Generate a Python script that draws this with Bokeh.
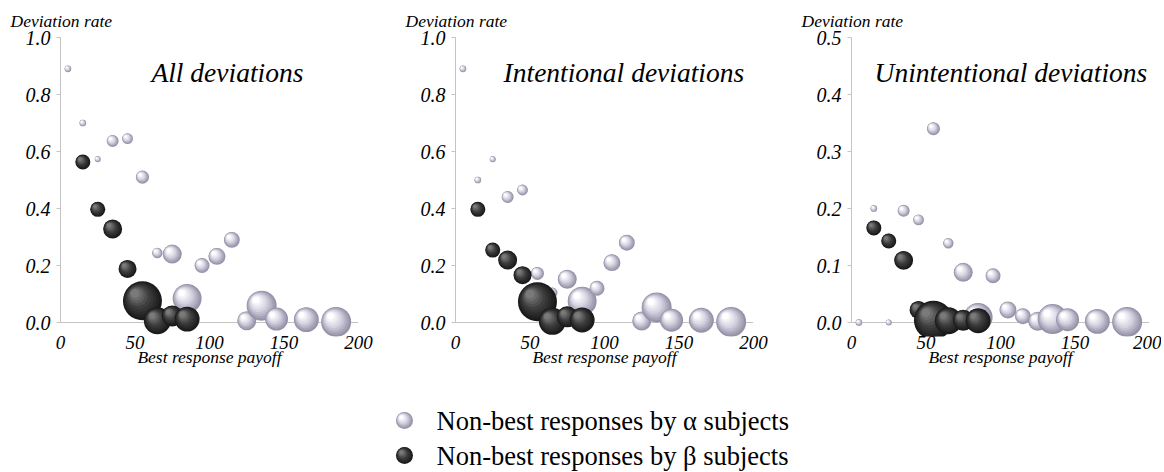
import math
from bokeh.plotting import figure
from bokeh.layouts import row, column
from bokeh.models import (ColumnDataSource, Range1d, FixedTicker, PrintfTickFormatter,
                          Span, Label)
from bokeh.embed import file_html
from bokeh.resources import INLINE

# ---------------- data ----------------
payoff_alpha = [5, 15, 25, 35, 45, 55, 65, 75, 85, 95, 105, 115, 125, 135, 145, 165, 185]
payoff_beta = [15, 25, 35, 45, 55, 65, 75, 85]

# number of observations behind each bubble (bubble area)
n_alpha = [5, 5, 4, 16, 13, 19, 12, 40, 93, 25, 32, 28, 40, 100, 59, 69, 100]
n_beta = [25, 25, 40, 36, 169, 81, 49, 69]

alpha_all = [0.89, 0.70, 0.573, 0.637, 0.645, 0.51, 0.244, 0.24, 0.084, 0.20, 0.232, 0.29,
             0.006, 0.059, 0.012, 0.010, 0.002]
alpha_int = [0.89, 0.50, 0.573, 0.44, 0.465, 0.172, 0.105, 0.152, 0.075, 0.12, 0.21, 0.28,
             0.005, 0.053, 0.008, 0.008, 0.002]
alpha_unint = [0.0, 0.20, 0.0, 0.196, 0.18, 0.34, 0.139, 0.088, 0.009, 0.082, 0.022, 0.011,
               0.002, 0.006, 0.005, 0.002, 0.001]

beta_all = [0.563, 0.397, 0.328, 0.188, 0.076, 0.006, 0.023, 0.012]
beta_int = [0.397, 0.254, 0.219, 0.166, 0.073, 0.004, 0.020, 0.009]
beta_unint = [0.166, 0.143, 0.109, 0.022, 0.004, 0.003, 0.004, 0.003]

panel_titles = ["All deviations", "Intentional deviations", "Unintentional deviations"]
y_max = [1.0, 1.0, 0.5]
y_ticks = [[0.0, 0.2, 0.4, 0.6, 0.8, 1.0], [0.0, 0.2, 0.4, 0.6, 0.8, 1.0],
           [0.0, 0.1, 0.2, 0.3, 0.4, 0.5]]
x_ticks = [0, 50, 100, 150, 200]
legend_labels = ["Non-best responses by \u03b1 subjects", "Non-best responses by \u03b2 subjects"]

# ---------------- style ----------------
FONT = "Liberation Serif"
AXIS_GREY = "#c4c4c4"
SIZE_K = 3.0
FRAME_W = 298
FRAME_DATA_H = 285
PAD_PX = 14
TOP = 37
BOTTOM = 32


def shading(edge, mid, high, n=9):
    """Concentric, up-left shifted discs that imitate a lit sphere."""
    out = []
    for j in range(n):
        t = j / (n - 1)
        if t < 0.5:
            a, b, u = edge, mid, t / 0.5
        else:
            a, b, u = mid, high, (t - 0.5) / 0.5
        c = tuple(round(a[k] + (b[k] - a[k]) * u) for k in range(3))
        out.append((1.0 - 0.78 * t, 0.19 * t, "#%02x%02x%02x" % c))
    return out


LIGHT = shading((0x96, 0x92, 0xa8), (0xd4, 0xd2, 0xe0), (0xff, 0xff, 0xff))
DARK = shading((0x1a, 0x1a, 0x1a), (0x3e, 0x3e, 0x3e), (0x7a, 0x7a, 0x7a))


def sphere_source(xs, ys, ns, layers, ppx, ppy, k=SIZE_K):
    d_ = dict(x=[], y=[], size=[], color=[])
    for x, y, n in zip(xs, ys, ns):
        dia = k * math.sqrt(n)
        for frac, off, col in layers:
            d_["x"].append(x - off * dia / ppx)
            d_["y"].append(y + off * dia / ppy)
            d_["size"].append(frac * dia)
            d_["color"].append(col)
    return ColumnDataSource(d_)


def make_panel(i, a_vals, b_vals, left_border, right_border, title_x):
    ymax = y_max[i]
    ppy = FRAME_DATA_H / ymax
    ppx = FRAME_W / 200.0
    pad = PAD_PX / ppy
    p = figure(frame_width=FRAME_W, frame_height=FRAME_DATA_H + PAD_PX,
               x_range=Range1d(0, 200), y_range=Range1d(-pad, ymax),
               output_backend="svg", toolbar_location=None,
               min_border_left=left_border, min_border_right=right_border,
               min_border_top=TOP, min_border_bottom=BOTTOM)
    p.outline_line_color = None
    p.grid.visible = False
    p.background_fill_color = "white"

    p.title.text = "Deviation rate"
    p.title.text_font = FONT
    p.title.text_font_style = "italic"
    p.title.text_font_size = "17.5px"
    p.title.text_color = "black"
    p.title.align = "left"
    p.title.offset = -50
    p.title.standoff = 13

    ya = p.yaxis[0]
    ya.ticker = FixedTicker(ticks=y_ticks[i])
    ya.formatter = PrintfTickFormatter(format="%.1f")
    ya.bounds = (0, ymax)
    ya.axis_line_color = AXIS_GREY
    ya.major_tick_line_color = AXIS_GREY
    ya.major_tick_out = 4
    ya.major_tick_in = 0
    ya.minor_tick_line_color = None
    ya.major_label_text_font = FONT
    ya.major_label_text_font_style = "italic"
    ya.major_label_text_font_size = "20px"
    ya.major_label_text_color = "black"
    ya.major_label_standoff = 6

    xa = p.xaxis[0]
    xa.ticker = FixedTicker(ticks=x_ticks)
    xa.axis_line_color = None
    xa.major_tick_line_color = None
    xa.minor_tick_line_color = None
    xa.major_tick_out = 0
    xa.major_tick_in = 0
    xa.major_label_standoff = -1
    xa.major_label_text_font = FONT
    xa.major_label_text_font_style = "italic"
    xa.major_label_text_font_size = "19px"
    xa.major_label_text_color = "black"
    xa.axis_label = "Best response payoff"
    xa.axis_label_text_font = FONT
    xa.axis_label_text_font_style = "italic"
    xa.axis_label_text_font_size = "17.5px"
    xa.axis_label_text_color = "black"
    xa.axis_label_standoff = -5

    p.add_layout(Span(location=0, dimension="width", line_color=AXIS_GREY,
                      line_width=1, level="underlay"))

    sa = sphere_source(payoff_alpha, a_vals, n_alpha, LIGHT, ppx, ppy)
    sb = sphere_source(payoff_beta, b_vals, n_beta, DARK, ppx, ppy)
    p.scatter("x", "y", size="size", fill_color="color", line_color=None, source=sa)
    p.scatter("x", "y", size="size", fill_color="color", line_color=None, source=sb)

    p.add_layout(Label(x=title_x, y=0.877 * ymax, text=panel_titles[i], text_font=FONT,
                       text_font_style="italic", text_font_size="27.5px",
                       text_align="center", text_baseline="middle", text_color="black"))
    return p


p1 = make_panel(0, alpha_all, beta_all, 60, 45, 112)
p2 = make_panel(1, alpha_int, beta_int, 52, 45, 113)
p3 = make_panel(2, alpha_unint, beta_unint, 53, 12, 107)

# ---------------- legend ----------------
LW, LH = 1161, 102
leg = figure(width=LW, height=LH, x_range=Range1d(0, LW), y_range=Range1d(0, LH),
             output_backend="svg", toolbar_location=None, min_border=0)
leg.axis.visible = False
leg.grid.visible = False
leg.outline_line_color = None
rows_y = [LH - 51, LH - 86]
for lab, yy, layers in zip(legend_labels, rows_y, [LIGHT, DARK]):
    src = sphere_source([404], [yy], [1], layers, 1.0, 1.0, k=17)
    leg.scatter("x", "y", size="size", fill_color="color", line_color=None, source=src)
    leg.add_layout(Label(x=436, y=yy, text=lab, text_font=FONT, text_font_size="26.5px",
                         text_align="left", text_baseline="middle", text_color="black"))

layout = column(row(p1, p2, p3), leg)
open("out.html", "w").write(file_html(layout, INLINE))
